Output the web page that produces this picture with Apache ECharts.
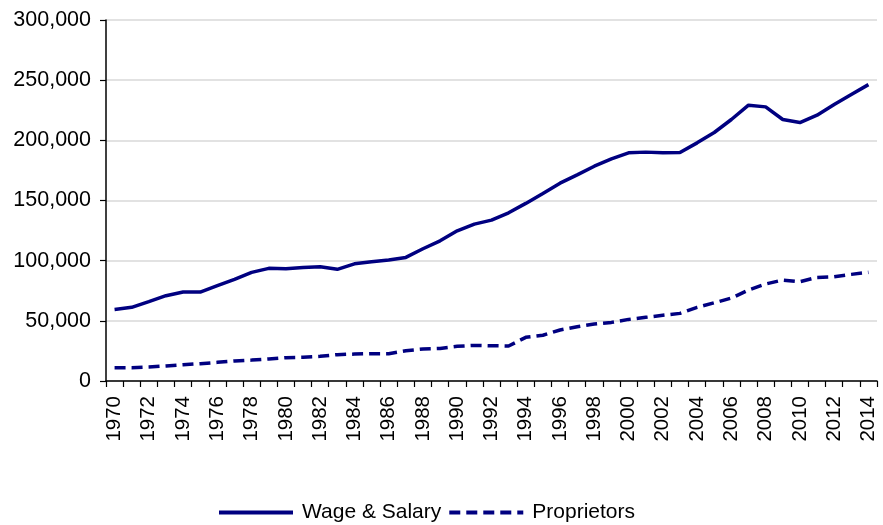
<!DOCTYPE html>
<html>
<head>
<meta charset="utf-8">
<script src="https://cdn.jsdelivr.net/npm/echarts@6/dist/echarts.min.js"></script>
<style>
html,body{margin:0;padding:0;background:#fff;}
#chart{width:883px;height:525px;}
</style>
</head>
<body>
<div id="chart"></div>
<script>
const years = [];
for (let y = 1970; y <= 2014; y++) years.push(String(y));

const wageSalary = [
  59500, 61200, 66000, 70900, 73900, 73900, 79200, 84500, 90300, 93600,
  93300, 94400, 94900, 92800, 97400, 99100, 100500, 102700, 109900, 116500,
  124800, 130400, 133700, 139800, 147600, 155900, 164400, 171300, 178500, 184600,
  189600, 190200, 189600, 189900, 197900, 206500, 217300, 229200, 227800, 217300,
  214800, 220900, 229800, 238100, 246300
];

const proprietors = [
  11100, 11100, 11600, 12500, 13500, 14400, 15500, 16600, 17400, 18300,
  19400, 19700, 20500, 21900, 22400, 22700, 22700, 25200, 26600, 27100,
  28800, 29600, 29300, 29100, 36300, 38000, 42400, 45100, 47300, 48700,
  51200, 52900, 54600, 56200, 61200, 65000, 68900, 75600, 80600, 83900,
  82500, 86100, 86700, 88600, 90300
];

const seriesNames = ['Wage & Salary', 'Proprietors'];
const yTicks = [0, 50000, 100000, 150000, 200000, 250000, 300000];

const chart = echarts.init(document.getElementById('chart'));
const font = 'Liberation Sans, Arial, sans-serif';
chart.setOption({
  animation: false,
  grid: { left: 106, right: 6, top: 20, bottom: 144, containLabel: false },
  legend: {
    bottom: -3,
    left: 212,
    itemWidth: 74,
    itemHeight: 14,
    itemGap: 6,
    itemStyle: { opacity: 0 },
    lineStyle: { width: 4 },
    textStyle: { fontFamily: font, fontSize: 21, color: '#000', padding: [0, 0, 0, 4] },
    data: seriesNames
  },
  xAxis: {
    type: 'category',
    data: years,
    boundaryGap: true,
    axisLine: { lineStyle: { color: '#000', width: 1.5 } },
    axisTick: { show: true, interval: 0, length: 6, lineStyle: { color: '#000', width: 1.2 } },
    axisLabel: {
      interval: 1,
      rotate: 90,
      margin: 15,
      fontFamily: font,
      fontSize: 20.5,
      color: '#000'
    }
  },
  yAxis: {
    type: 'value',
    min: yTicks[0],
    max: yTicks[yTicks.length - 1],
    interval: 50000,
    axisLine: { show: true, lineStyle: { color: '#000', width: 1.5 } },
    axisTick: { show: true, length: 6, lineStyle: { color: '#000', width: 1.2 } },
    splitLine: { show: true, lineStyle: { color: '#d9d9d9', width: 1.5 } },
    axisLabel: {
      margin: 15,
      fontFamily: font,
      fontSize: 21.5,
      color: '#000',
      formatter: v => v.toLocaleString('en-US')
    }
  },
  series: [
    {
      name: seriesNames[0],
      type: 'line',
      data: wageSalary,
      symbol: 'none',
      lineStyle: { color: '#000080', width: 3.5 },
      itemStyle: { color: '#000080' }
    },
    {
      name: seriesNames[1],
      type: 'line',
      data: proprietors,
      symbol: 'none',
      lineStyle: { color: '#000080', width: 3.5, type: [11, 6] },
      itemStyle: { color: '#000080' }
    }
  ]
});
</script>
</body>
</html>
